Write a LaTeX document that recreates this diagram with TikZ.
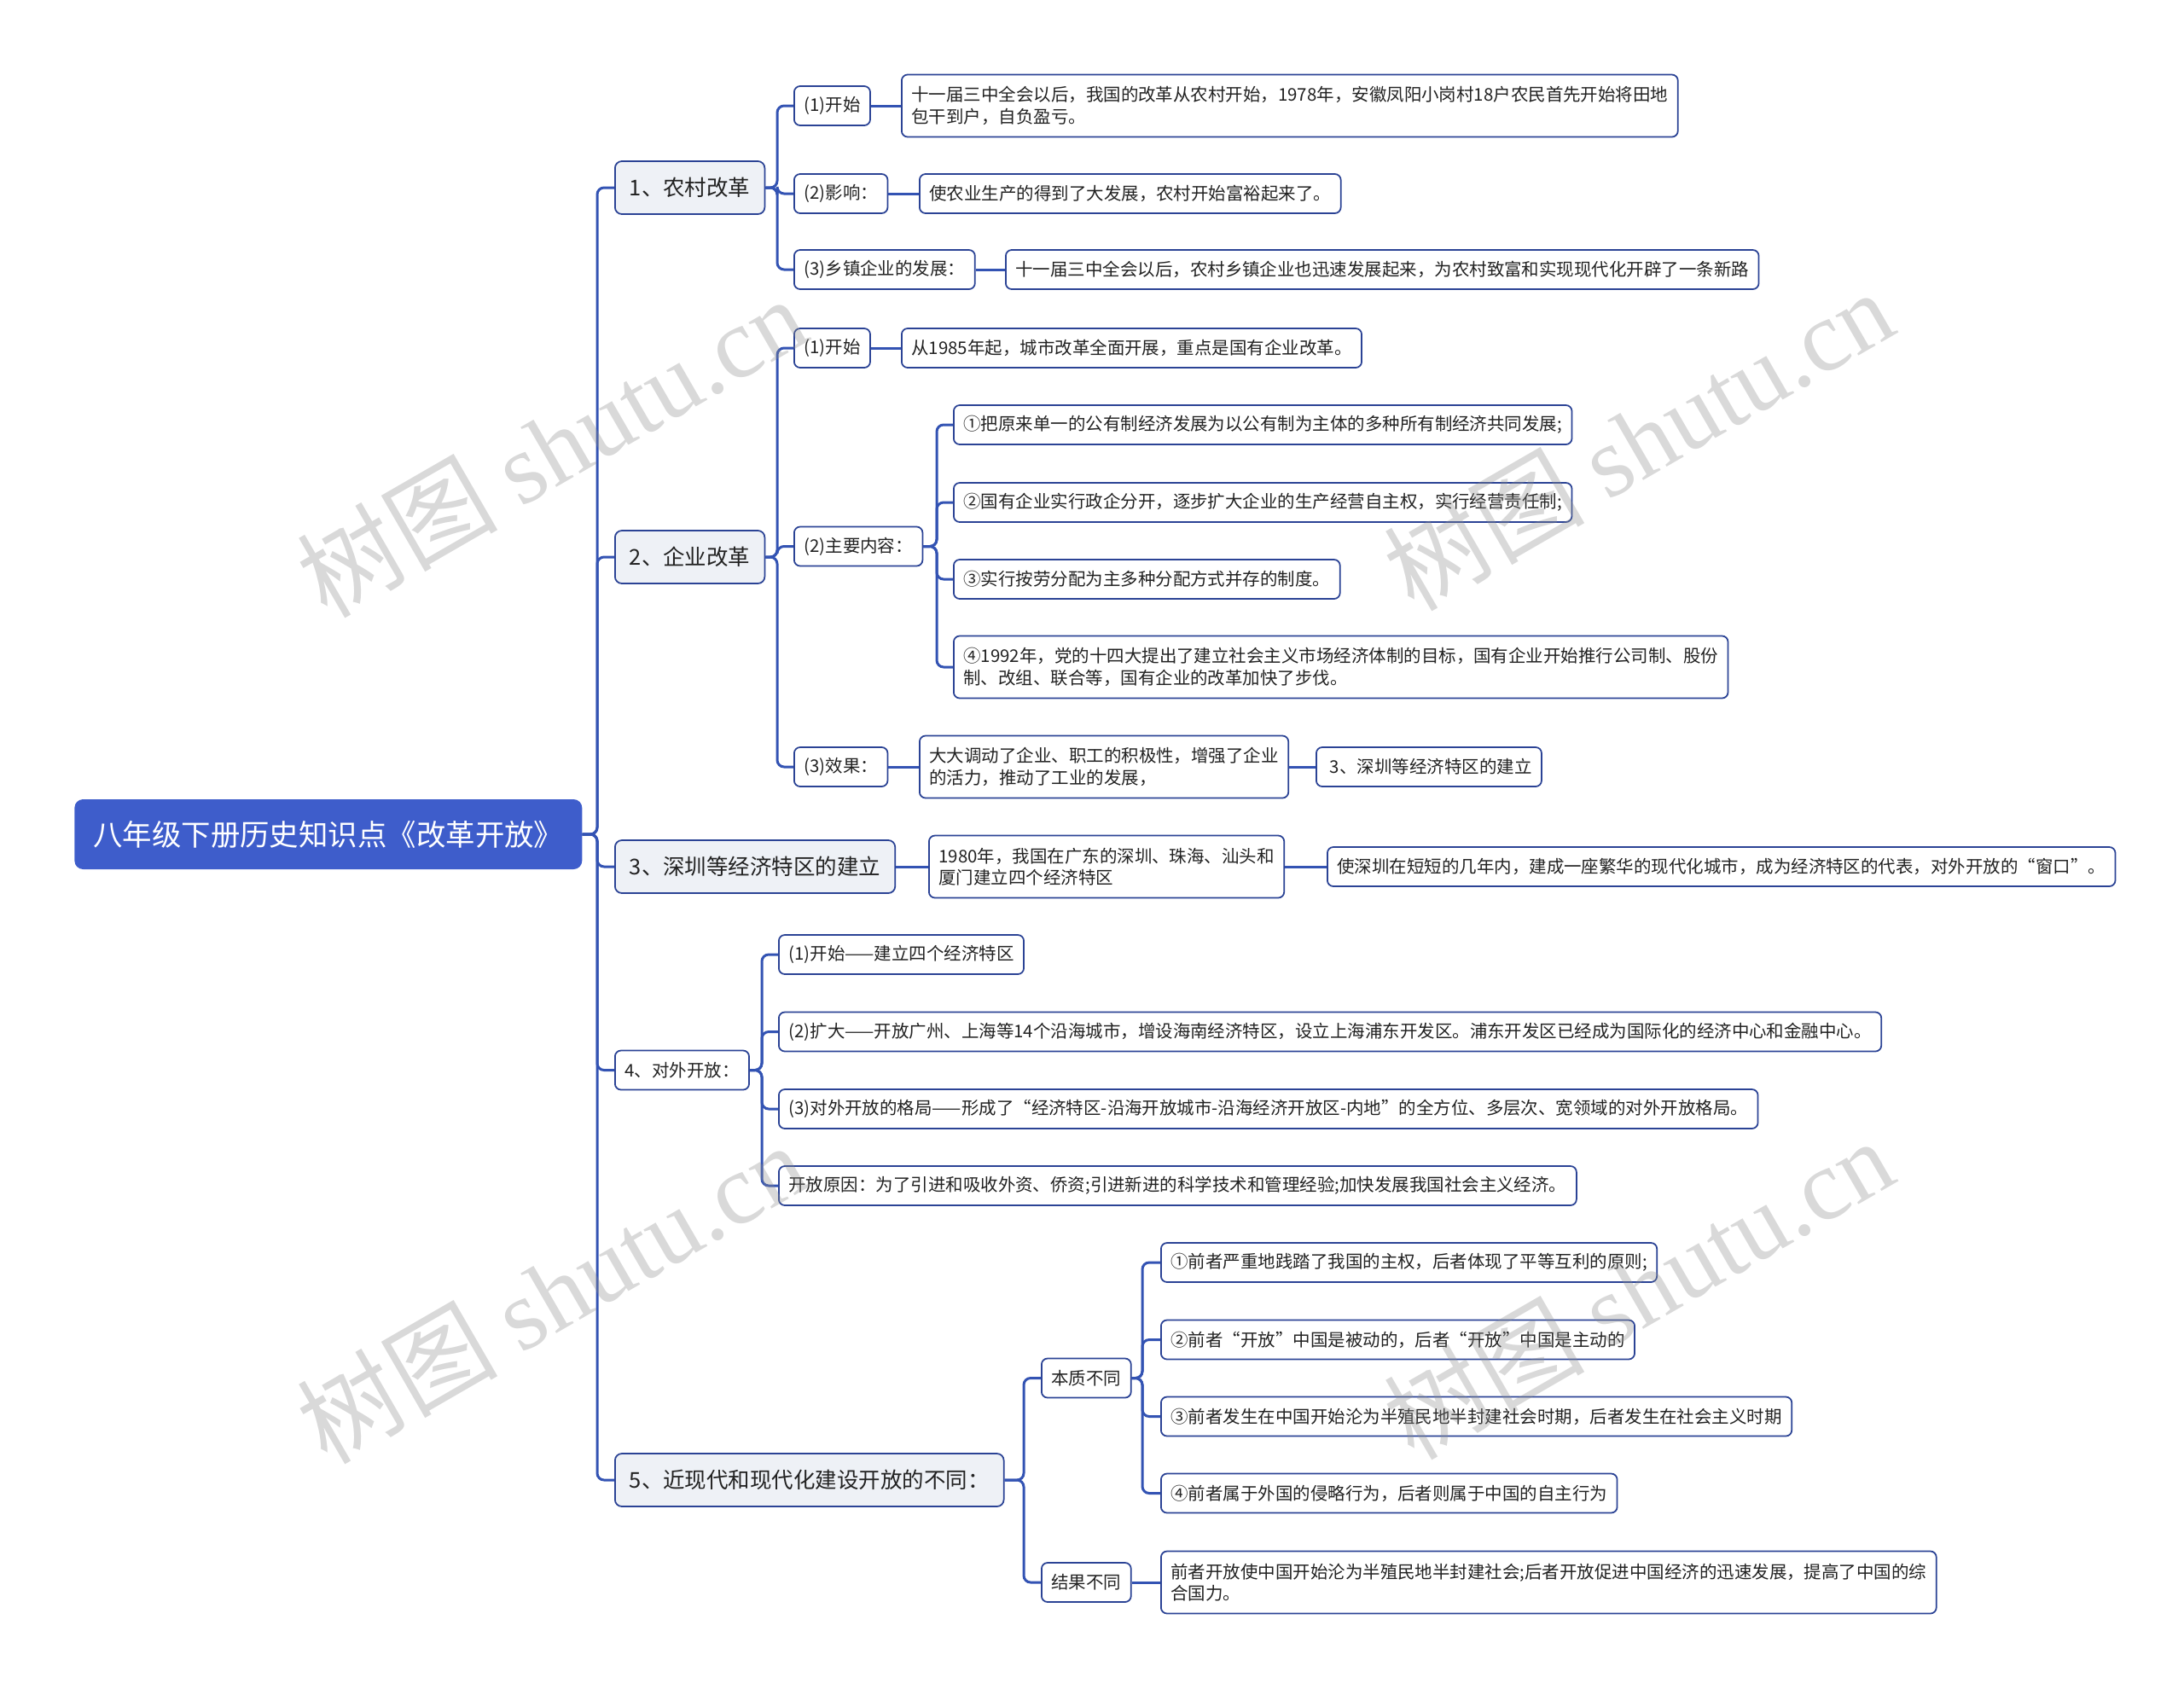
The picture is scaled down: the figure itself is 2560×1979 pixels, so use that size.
\documentclass[tikz,border=0pt]{standalone}
\usepackage{fontspec}
\setmainfont{Noto Sans CJK SC}
\newfontfamily\wmlatin{Liberation Serif}

\definecolor{rootblue}{HTML}{3E5DCB}
\definecolor{linkblue}{HTML}{3353B3}
\definecolor{boxline}{HTML}{2B4395}
\definecolor{topicfill}{HTML}{EEF1F6}
\definecolor{inkgray}{HTML}{222222}

\begin{document}
\begin{tikzpicture}[
    x=0.02cm, y=-0.02cm,
    every node/.style={text=inkgray},
    rootnode/.style={fill=rootblue, text=white, rounded corners=0.2cm, anchor=west,
        font=\fontsize{19.6}{23}\selectfont, minimum height=1.64cm, inner xsep=0.44cm},
    topic/.style={draw=boxline, line width=1pt, fill=topicfill, rounded corners=0.16cm,
        anchor=west, font=\fontsize{14.5}{17}\selectfont, minimum height=1.24cm, inner xsep=0.34cm},
    leaf/.style={draw=boxline, line width=1pt, fill=white, rounded corners=0.14cm,
        anchor=west, align=left, font=\fontsize{11.65}{14.6}\selectfont,
        minimum height=0.92cm, inner xsep=0.23cm},
    twoline/.style={minimum height=1.46cm},
    link/.style={draw=linkblue, line width=1.7pt, rounded corners=0.16cm},
    wmark/.style={text=black!45, text opacity=0.33, rotate=30,
        font=\fontsize{67}{76}\selectfont},
    ]

    \useasboundingbox (0,0) rectangle (2560,1979);

    % spines of the branches
    \coordinate (s0) at (700,0);
    \coordinate (s1) at (911,0);
    \coordinate (s22) at (1098,0);
    \coordinate (s4) at (893,0);
    \coordinate (s5) at (1200,0);
    \coordinate (s51) at (1339,0);

    \node[rootnode] (root) at (87,978) {八年级下册历史知识点《改革开放》};

    \node[topic] (t1) at (720,220) {1、农村改革};
    \node[topic] (t2) at (720,653) {2、企业改革};
    \node[topic] (t3) at (720,1016) {3、深圳等经济特区的建立};
    \node[leaf]  (t4) at (720,1254.5) {4、对外开放：};
    \node[topic] (t5) at (720,1735) {5、近现代和现代化建设开放的不同：};

    % 1
    \node[leaf] (a1) at (930,124) {(1)开始};
    \node[leaf, twoline] (a1d) at (1056,124)
        {十一届三中全会以后，我国的改革从农村开始，1978年，安徽凤阳小岗村18户农民首先开始将田地\\包干到户，自负盈亏。};
    \node[leaf] (a2) at (930,227) {(2)影响：};
    \node[leaf] (a2d) at (1077,227) {使农业生产的得到了大发展，农村开始富裕起来了。};
    \node[leaf] (a3) at (930,316) {(3)乡镇企业的发展：};
    \node[leaf] (a3d) at (1178,316)
        {十一届三中全会以后，农村乡镇企业也迅速发展起来，为农村致富和实现现代化开辟了一条新路};

    % 2
    \node[leaf] (b1) at (930,408) {(1)开始};
    \node[leaf] (b1d) at (1056,408) {从1985年起，城市改革全面开展，重点是国有企业改革。};
    \node[leaf] (b2) at (930,640.5) {(2)主要内容：};
    \node[leaf] (b21) at (1117,498)
        {①把原来单一的公有制经济发展为以公有制为主体的多种所有制经济共同发展;};
    \node[leaf] (b22) at (1117,589)
        {②国有企业实行政企分开，逐步扩大企业的生产经营自主权，实行经营责任制;};
    \node[leaf] (b23) at (1117,679) {③实行按劳分配为主多种分配方式并存的制度。};
    \node[leaf, twoline] (b24) at (1117,782)
        {④1992年，党的十四大提出了建立社会主义市场经济体制的目标，国有企业开始推行公司制、股份\\制、改组、联合等，国有企业的改革加快了步伐。};
    \node[leaf] (b3) at (930,899) {(3)效果：};
    \node[leaf, twoline] (b3d) at (1077,899)
        {大大调动了企业、职工的积极性，增强了企业\\的活力，推动了工业的发展，};
    \node[leaf] (b3e) at (1542,899) {\ 3、深圳等经济特区的建立};

    % 3
    \node[leaf, twoline] (c1) at (1088,1016)
        {1980年，我国在广东的深圳、珠海、汕头和\\厦门建立四个经济特区};
    \node[leaf] (c2) at (1555,1016)
        {使深圳在短短的几年内，建成一座繁华的现代化城市，成为经济特区的代表，对外开放的“窗口”。};

    % 4
    \node[leaf] (d1) at (912,1119) {(1)开始——建立四个经济特区};
    \node[leaf] (d2) at (912,1209.5)
        {(2)扩大——开放广州、上海等14个沿海城市，增设海南经济特区，设立上海浦东开发区。浦东开发区已经成为国际化的经济中心和金融中心。};
    \node[leaf] (d3) at (912,1300)
        {(3)对外开放的格局——形成了“经济特区-沿海开放城市-沿海经济开放区-内地”的全方位、多层次、宽领域的对外开放格局。};
    \node[leaf] (d4) at (912,1390)
        {开放原因：为了引进和吸收外资、侨资;引进新进的科学技术和管理经验;加快发展我国社会主义经济。};

    % 5
    \node[leaf] (e1) at (1220,1615.5) {本质不同};
    \node[leaf] (e11) at (1360,1480) {①前者严重地践踏了我国的主权，后者体现了平等互利的原则;};
    \node[leaf] (e12) at (1360,1570.5) {②前者“开放”中国是被动的，后者“开放”中国是主动的};
    \node[leaf] (e13) at (1360,1660.5)
        {③前者发生在中国开始沦为半殖民地半封建社会时期，后者发生在社会主义时期};
    \node[leaf] (e14) at (1360,1750.5) {④前者属于外国的侵略行为，后者则属于中国的自主行为};
    \node[leaf] (e2) at (1220,1855) {结果不同};
    \node[leaf, twoline] (e2d) at (1360,1855)
        {前者开放使中国开始沦为半殖民地半封建社会;后者开放促进中国经济的迅速发展，提高了中国的综\\合国力。};

    % connectors
    \foreach \c in {t1,t2,t3,t4,t5}{
    \draw[link] (root.east) -- (root.east -| s0) |- (\c.west);
    }
    \foreach \c in {a1,a2,a3}{
    \draw[link] (t1.east) -- (t1.east -| s1) |- (\c.west);
    }
    \foreach \c in {b1,b2,b3}{
    \draw[link] (t2.east) -- (t2.east -| s1) |- (\c.west);
    }
    \foreach \c in {b21,b22,b23,b24}{
    \draw[link] (b2.east) -- (b2.east -| s22) |- (\c.west);
    }
    \foreach \c in {d1,d2,d3,d4}{
    \draw[link] (t4.east) -- (t4.east -| s4) |- (\c.west);
    }
    \foreach \c in {e1,e2}{
    \draw[link] (t5.east) -- (t5.east -| s5) |- (\c.west);
    }
    \foreach \c in {e11,e12,e13,e14}{
    \draw[link] (e1.east) -- (e1.east -| s51) |- (\c.west);
    }
    \foreach \p/\c in {a1/a1d, a2/a2d, a3/a3d, b1/b1d, b3/b3d, b3d/b3e,
                       t3/c1, c1/c2, e2/e2d}{
    \draw[link] (\p.east) -- (\c.west);
    }

    % watermarks
    \node[wmark] (wm1) at (646,523) {树图 {\wmlatin shutu.cn}};
    \node[wmark] (wm2) at (1920,515) {树图 {\wmlatin shutu.cn}};
    \node[wmark] (wm3) at (646,1515) {树图 {\wmlatin shutu.cn}};
    \node[wmark] (wm4) at (1920,1510) {树图 {\wmlatin shutu.cn}};

\end{tikzpicture}
\end{document}
